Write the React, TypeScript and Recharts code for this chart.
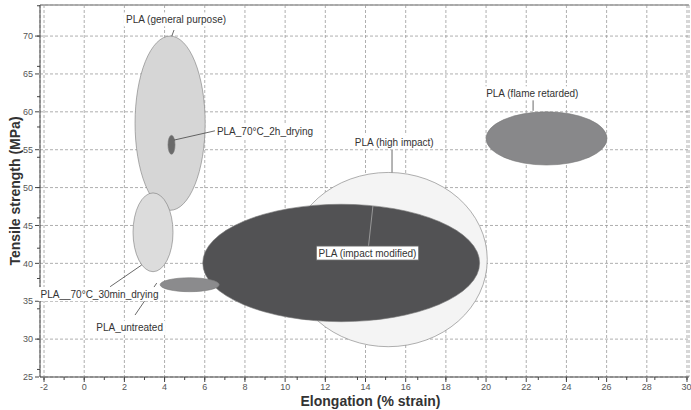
import React from 'react';
import { ScatterChart, XAxis, YAxis, CartesianGrid, ReferenceArea, ReferenceLine, ReferenceDot } from 'recharts';

const FONT = '"Liberation Sans", Arial, Helvetica, sans-serif';

// material regions: elongation (% strain) and tensile strength (MPa) ranges
const grades = ['PLA (high impact)', 'PLA (impact modified)', 'PLA_untreated', 'PLA (general purpose)', 'PLA__70°C_30min_drying', 'PLA_70°C_2h_drying', 'PLA (flame retarded)'];
const elongMin = [10.2, 5.9, 3.78, 2.53, 2.43, 4.17, 20.0];
const elongMax = [20.06, 19.68, 6.72, 6.02, 4.42, 4.52, 26.02];
const strengthMin = [29.0, 32.3, 36.26, 47.0, 38.9, 54.4, 52.98];
const strengthMax = [52.0, 47.8, 38.1, 70.0, 49.3, 56.9, 60.0];
const fills = ['#f4f4f4', '#525254', '#8b8b8d', '#d6d6d6', '#dcdcdc', '#6a6a6a', '#88888a'];

// callouts, in data units
const labelText = ['PLA (general purpose)', 'PLA_70°C_2h_drying', 'PLA (high impact)', 'PLA (impact modified)', 'PLA (flame retarded)', 'PLA__70°C_30min_drying', 'PLA_untreated'];
const labelX = [4.57, 9.0, 15.43, 14.1, 22.3, 0.76, 2.26];
const labelY = [72.2, 57.46, 56.0, 41.36, 62.44, 35.95, 31.5];
const labelBoxed = [false, false, false, true, false, false, false];
const leaderX1 = [4.47, 4.47, 15.32, 14.37, 22.34, 1.29, 2.53];
const leaderY1 = [70.8, 56.27, 54.95, 47.6, 61.6, 36.92, 33.18];
const leaderX2 = [4.36, 6.6, 15.32, 14.15, 22.34, 2.86, 3.61];
const leaderY2 = [70.0, 57.55, 52.0, 42.3, 60.14, 39.78, 37.4];

const xTicks = [-2, 0, 2, 4, 6, 8, 10, 12, 14, 16, 18, 20, 22, 24, 26, 28, 30];
const yTicks = [25, 30, 35, 40, 45, 50, 55, 60, 65, 70];
const xMinor = Array.from({ length: 162 }, (_, i) => Math.round((-2.2 + i * 0.2) * 10) / 10);
const yMinor = Array.from({ length: 50 }, (_, i) => 25 + i);

const X_DOMAIN: [number, number] = [-2.2, 30.1];
const Y_DOMAIN: [number, number] = [25, 74.1];

let ctx: CanvasRenderingContext2D | null = null;
const measure = (t: string) => {
  if (!ctx && typeof document !== 'undefined') ctx = document.createElement('canvas').getContext('2d');
  if (!ctx) return t.length * 5;
  ctx.font = `10px ${FONT}`;
  return ctx.measureText(t).width;
};

const ellipseShape = (fill: string) => (p: any) => (
  <ellipse
    cx={p.x + p.width / 2}
    cy={p.y + p.height / 2}
    rx={Math.abs(p.width) / 2}
    ry={Math.abs(p.height) / 2}
    fill={fill}
    stroke="#7a7a7a"
    strokeWidth={0.6}
  />
);

const calloutShape = (text: string, boxed: boolean) => (p: any) => {
  const w = measure(text);
  return (
    <g>
      <rect x={p.cx - w / 2 - 2} y={p.cy - 7} width={w + 4} height={14} fill="#fff" stroke={boxed ? '#666' : 'none'} strokeWidth={0.8} />
      <text x={p.cx} y={p.cy} textAnchor="middle" dominantBaseline="central" fontSize={10} fill="#333" fontFamily={FONT}>
        {text}
      </text>
    </g>
  );
};

const noTick = () => <g />;

const App: React.FC = () => {
  return (
    <div style={{ position: 'absolute', left: 0, top: 0, background: '#fff' }}>
      <ScatterChart width={691} height={410} margin={{ top: 4, right: 2, bottom: 0, left: 0 }}>
        <CartesianGrid xAxisId="main" yAxisId="main" strokeDasharray="3 2" stroke="#9a9a9a" strokeWidth={0.8} />
        {/* minor ticks sit on the default axes, right against the plot */}
        <XAxis dataKey="x" type="number" domain={X_DOMAIN} allowDataOverflow ticks={xMinor} tick={noTick} tickSize={3} height={1} stroke="#444" />
        <XAxis
          xAxisId="main"
          dataKey="x"
          type="number"
          domain={X_DOMAIN}
          allowDataOverflow
          ticks={xTicks}
          height={32}
          tickSize={4}
          tickMargin={2}
          axisLine={false}
          stroke="#444"
          tick={{ fontSize: 9, fill: '#555', fontFamily: FONT }}
          label={{
            content: (props: any) => {
              const vb = props.viewBox;
              return (
                <text x={vb.x + vb.width / 2 + 6} y={406} textAnchor="middle" fontSize={14} fontWeight="bold" fill="#333" fontFamily={FONT}>
                  Elongation (% strain)
                </text>
              );
            },
          }}
        />
        <XAxis xAxisId="top" dataKey="x" orientation="top" type="number" domain={X_DOMAIN} allowDataOverflow height={1} tick={noTick} tickLine={false} stroke="#999" strokeWidth={1.4} />
        <YAxis dataKey="y" type="number" domain={Y_DOMAIN} allowDataOverflow ticks={yMinor} tick={noTick} tickSize={3} width={1} stroke="#444" />
        <YAxis
          yAxisId="main"
          dataKey="y"
          type="number"
          domain={Y_DOMAIN}
          allowDataOverflow
          ticks={yTicks}
          width={39}
          tickSize={4}
          tickMargin={2}
          axisLine={false}
          stroke="#444"
          tick={{ fontSize: 9, fill: '#555', fontFamily: FONT }}
          label={{
            content: (props: any) => {
              const vb = props.viewBox;
              const cy = vb.y + vb.height / 2;
              return (
                <text x={15} y={cy} transform={`rotate(-90 15 ${cy})`} textAnchor="middle" dominantBaseline="central" fontSize={14} fontWeight="bold" fill="#333" fontFamily={FONT}>
                  Tensile strength (MPa)
                </text>
              );
            },
          }}
        />
        {grades.map((g, i) => (
          <ReferenceArea
            key={g}
            xAxisId="main"
            yAxisId="main"
            x1={elongMin[i]}
            x2={elongMax[i]}
            y1={strengthMin[i]}
            y2={strengthMax[i]}
            shape={ellipseShape(fills[i])}
            ifOverflow="visible"
          />
        ))}
        {labelText.map((t, i) => (
          <ReferenceLine
            key={`l-${t}`}
            xAxisId="main"
            yAxisId="main"
            segment={[
              { x: leaderX1[i], y: leaderY1[i] },
              { x: leaderX2[i], y: leaderY2[i] },
            ]}
            stroke={labelBoxed[i] ? '#aaa' : '#444'}
            strokeWidth={0.8}
            ifOverflow="visible"
          />
        ))}
        {labelText.map((t, i) => (
          <ReferenceDot
            key={`d-${t}`}
            xAxisId="main"
            yAxisId="main"
            x={labelX[i]}
            y={labelY[i]}
            r={0}
            shape={calloutShape(t, labelBoxed[i])}
            ifOverflow="visible"
          />
        ))}
      </ScatterChart>
    </div>
  );
};

export default App;
